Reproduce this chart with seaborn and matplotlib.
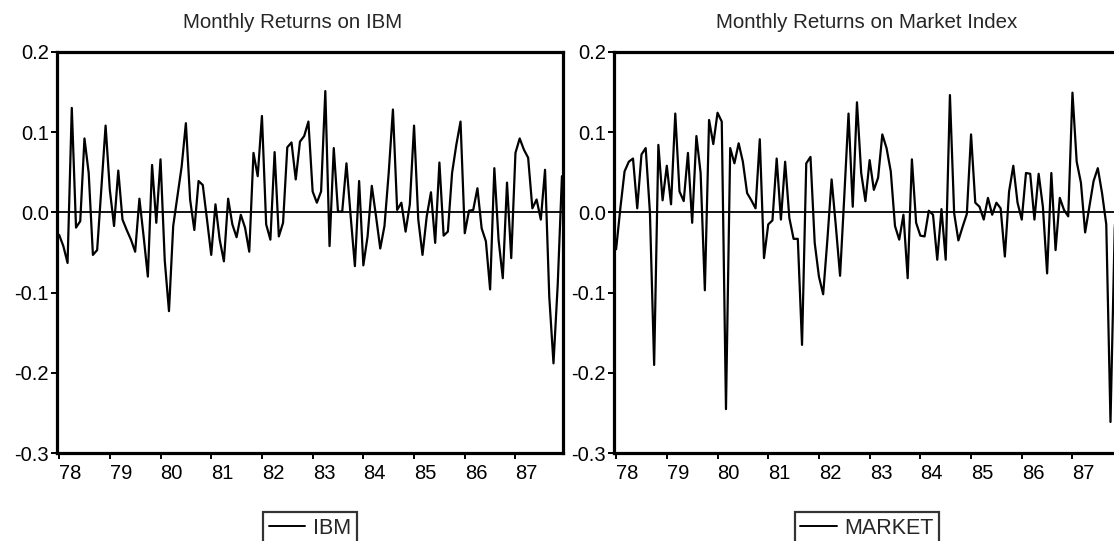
import numpy as np
import pandas as pd
import matplotlib
matplotlib.use("Agg")
import matplotlib.pyplot as plt
from matplotlib.ticker import FormatStrFormatter
import seaborn as sns

years = ["78", "79", "80", "81", "82", "83", "84", "85", "86", "87"]

ibm = [-0.028, -0.042, -0.063, 0.130, -0.019, -0.011, 0.092, 0.049, -0.053, -0.047,
       0.030, 0.108, 0.028, -0.017, 0.052, -0.009, -0.022, -0.034, -0.049, 0.017,
       -0.030, -0.080, 0.059, -0.013, 0.066, -0.060, -0.123, -0.017, 0.020, 0.057,
       0.111, 0.016, -0.022, 0.039, 0.034, -0.009, -0.053, 0.010, -0.034, -0.061,
       0.017, -0.015, -0.031, -0.003, -0.019, -0.049, 0.074, 0.045, 0.120, -0.015,
       -0.034, 0.075, -0.030, -0.013, 0.081, 0.087, 0.041, 0.088, 0.095, 0.113,
       0.026, 0.012, 0.026, 0.151, -0.042, 0.080, 0.001, 0.001, 0.061, -0.005,
       -0.067, 0.039, -0.066, -0.030, 0.033, -0.005, -0.045, -0.017, 0.049, 0.128,
       0.003, 0.012, -0.024, 0.010, 0.108, -0.009, -0.053, -0.005, 0.025, -0.038,
       0.062, -0.029, -0.024, 0.049, 0.084, 0.113, -0.026, 0.002, 0.003, 0.030,
       -0.020, -0.036, -0.096, 0.055, -0.034, -0.082, 0.037, -0.057, 0.074, 0.092,
       0.078, 0.068, 0.005, 0.016, -0.009, 0.053, -0.105, -0.188, -0.090, 0.045]

market = [-0.046, 0.005, 0.051, 0.063, 0.067, 0.005, 0.072, 0.080, 0.000, -0.190,
          0.084, 0.015, 0.058, 0.010, 0.123, 0.026, 0.014, 0.074, -0.013, 0.095,
          0.049, -0.097, 0.115, 0.085, 0.124, 0.113, -0.245, 0.080, 0.061, 0.086,
          0.063, 0.024, 0.015, 0.005, 0.091, -0.057, -0.015, -0.010, 0.067, -0.009,
          0.063, -0.007, -0.033, -0.033, -0.165, 0.061, 0.069, -0.038, -0.080, -0.102,
          -0.034, 0.041, -0.017, -0.079, 0.020, 0.123, 0.007, 0.137, 0.049, 0.014,
          0.065, 0.028, 0.043, 0.097, 0.080, 0.051, -0.017, -0.034, -0.003, -0.082,
          0.066, -0.013, -0.029, -0.030, 0.002, -0.003, -0.059, 0.004, -0.059, 0.146,
          -0.001, -0.035, -0.018, -0.002, 0.097, 0.012, 0.007, -0.009, 0.018, -0.003,
          0.012, 0.005, -0.055, 0.026, 0.058, 0.012, -0.009, 0.049, 0.048, -0.009,
          0.048, 0.007, -0.076, 0.049, -0.047, 0.018, 0.003, -0.005, 0.149, 0.063,
          0.037, -0.025, 0.007, 0.039, 0.055, 0.024, -0.015, -0.261, -0.020, 0.060]

titles = ["Monthly Returns on IBM", "Monthly Returns on Market Index"]
series_names = ["IBM", "MARKET"]
yticks = [0.2, 0.1, 0.0, -0.1, -0.2, -0.3]

sns.set_style("white")
plt.rcParams["font.family"] = ["Liberation Sans", "DejaVu Sans"]
plt.rcParams["axes.unicode_minus"] = False

df = pd.DataFrame({"month": np.arange(len(ibm)), "IBM": ibm, "MARKET": market})

W, H = 1114, 541
fig = plt.figure(figsize=(W / 100, H / 100), dpi=100)
ax_top, ax_bot = 51.7, 453.3
axes = [
    fig.add_axes([57 / W, (H - ax_bot) / H, 506 / W, (ax_bot - ax_top) / H]),
    fig.add_axes([614 / W, (H - ax_bot) / H, 506 / W, (ax_bot - ax_top) / H]),
]
title_x = [0.466, 0.50]

for ax, col, title, tx in zip(axes, series_names, titles, title_x):
    sns.lineplot(data=df, x="month", y=col, ax=ax, color="black", lw=1.6, label=col)
    ax.axhline(0, color="black", lw=1.3, zorder=1)
    ax.set_xlim(-0.5, 119.25)
    ax.set_ylim(-0.3, 0.2)
    ax.set_xticks(np.arange(0, 120, 12))
    ax.set_xticklabels(years, ha="left")
    ax.set_yticks(yticks)
    ax.yaxis.set_major_formatter(FormatStrFormatter("%.1f"))
    ax.tick_params(direction="out", length=4.5, width=1.4, labelsize=14.5,
                   bottom=True, left=True, pad=1.5, colors="black")
    ax.tick_params(axis="x", pad=3.5)
    for s in ax.spines.values():
        s.set_linewidth(2.3)
        s.set_color("black")
    ax.set_xlabel("")
    ax.set_ylabel("")
    ax.set_title(title, fontsize=14.8, pad=17, x=tx)
    leg = ax.legend(loc="upper center", bbox_to_anchor=(0.5, -0.147), frameon=True,
                    fancybox=False, edgecolor="black", fontsize=15.5, borderaxespad=0,
                    handlelength=1.7, handletextpad=0.35, borderpad=0.25)
    leg.get_frame().set_linewidth(1.6)
    for h in leg.get_lines():
        h.set_linewidth(1.4)

fig.savefig("out.png", dpi=100)
